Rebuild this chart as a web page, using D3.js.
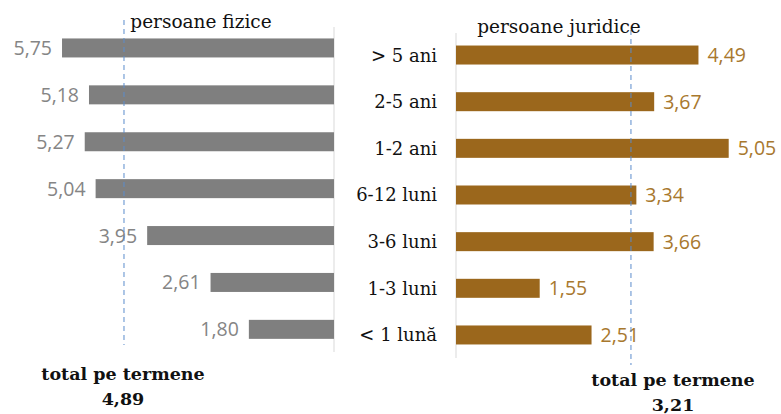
<!DOCTYPE html>
<html>
<head>
<meta charset="utf-8">
<script src="https://cdn.jsdelivr.net/npm/d3@7/dist/d3.min.js"></script>
<style>
  body { margin: 0; background: #fff; }
  svg { display: block; }
</style>
</head>
<body>
<div id="chart"></div>
<script>
// maturity buckets, top to bottom
var categories = ["> 5 ani", "2-5 ani", "1-2 ani", "6-12 luni", "3-6 luni", "1-3 luni", "< 1 lună"];
var fizice = [5.75, 5.18, 5.27, 5.04, 3.95, 2.61, 1.80];
var juridice = [4.49, 3.67, 5.05, 3.34, 3.66, 1.55, 2.51];
var panelTitles = ["persoane fizice", "persoane juridice"];
var totals = ["4,89", "3,21"];
// where the dashed "total" line sits
var totalLine = [4.44, 3.24];

var width = 781, height = 414;
var serif = "'DejaVu Serif', 'Liberation Serif', serif";
var sans = "'Open Sans', 'Noto Sans', sans-serif";
var fmt = function(v){ return d3.format(".2f")(v).replace(".", ","); };

var svg = d3.select("#chart").append("svg")
  .attr("width", width)
  .attr("height", height);

// scales
var xL = d3.scaleLinear().domain([0, 6]).range([334, 50.2]);
var xR = d3.scaleLinear().domain([0, 6]).range([456, 780]);
var yL = d3.scalePoint().domain(categories).range([24.5, 352.8]).padding(0.5);
var yR = d3.scalePoint().domain(categories).range([31.7, 358.3]).padding(0.5);
var barH = 19;

// left panel: persoane fizice
var left = svg.append("g");
left.append("line")
  .attr("x1", xL(0)).attr("x2", xL(0))
  .attr("y1", 27).attr("y2", 352)
  .attr("stroke", "#d9d9d9");

left.selectAll("rect")
  .data(fizice)
  .enter()
  .append("rect")
  .attr("x", function(d){ return xL(d); })
  .attr("y", function(d, i){ return yL(categories[i]) - barH/2; })
  .attr("width", function(d){ return xL(0) - xL(d); })
  .attr("height", barH)
  .attr("fill", "#7f7f7f");

left.selectAll("text.val")
  .data(fizice)
  .enter()
  .append("text")
  .attr("class", "val")
  .attr("x", function(d){ return Math.max(xL(d) - 10, 46); })
  .attr("y", function(d, i){ return yL(categories[i]); })
  .attr("dy", "0.36em")
  .attr("text-anchor", "end")
  .style("font-family", sans)
  .style("font-size", "19.5px")
  .style("fill", "#858585")
  .text(fmt);

// right panel: persoane juridice
var right = svg.append("g");
right.append("line")
  .attr("x1", xR(0)).attr("x2", xR(0))
  .attr("y1", 33).attr("y2", 358)
  .attr("stroke", "#d9d9d9");

right.selectAll("rect")
  .data(juridice)
  .enter()
  .append("rect")
  .attr("x", xR(0))
  .attr("y", function(d, i){ return yR(categories[i]) - barH/2; })
  .attr("width", function(d){ return xR(d) - xR(0); })
  .attr("height", barH)
  .attr("fill", "#9b671c");

right.selectAll("text.val")
  .data(juridice)
  .enter()
  .append("text")
  .attr("class", "val")
  .attr("x", function(d){ return xR(d) + 9; })
  .attr("y", function(d, i){ return yR(categories[i]); })
  .attr("dy", "0.36em")
  .style("font-family", sans)
  .style("font-size", "19.5px")
  .style("fill", "#a8782e")
  .text(fmt);

// category labels between the panels
svg.selectAll("text.cat")
  .data(categories)
  .enter()
  .append("text")
  .attr("class", "cat")
  .attr("x", 437)
  .attr("y", function(d){ return yR(d); })
  .attr("dy", "0.36em")
  .attr("text-anchor", "end")
  .style("font-family", serif)
  .style("font-size", "18px")
  .style("fill", "#111")
  .text(function(d){ return d; });

// dashed total lines
svg.append("line")
  .attr("x1", xL(totalLine[0])).attr("x2", xL(totalLine[0]))
  .attr("y1", 20).attr("y2", 345)
  .attr("stroke", "#5b8ccc")
  .attr("stroke-dasharray", "5,4");
svg.append("line")
  .attr("x1", xR(totalLine[1])).attr("x2", xR(totalLine[1]))
  .attr("y1", 30).attr("y2", 365)
  .attr("stroke", "#5b8ccc")
  .attr("stroke-dasharray", "5,4");

// panel titles
svg.append("text")
  .attr("x", 201).attr("y", 28)
  .attr("text-anchor", "middle")
  .style("font-family", serif)
  .style("font-size", "18.5px")
  .style("fill", "#111")
  .text(panelTitles[0]);
svg.append("text")
  .attr("x", 559).attr("y", 33)
  .attr("text-anchor", "middle")
  .style("font-family", serif)
  .style("font-size", "18.5px")
  .style("fill", "#111")
  .text(panelTitles[1]);

// totals under each panel
var totalPos = [[xL(totalLine[0]) - 1, 380], [673, 386]];
totalPos.forEach(function(p, i){
  var t = svg.append("text")
    .attr("x", p[0]).attr("y", p[1])
    .attr("text-anchor", "middle")
    .style("font-family", serif)
    .style("font-weight", "bold")
    .style("font-size", "17.5px")
    .style("fill", "#111");
  t.append("tspan").attr("x", p[0]).text("total pe termene");
  t.append("tspan").attr("x", p[0]).attr("dy", "1.43em").text(totals[i]);
});
</script>
</body>
</html>
